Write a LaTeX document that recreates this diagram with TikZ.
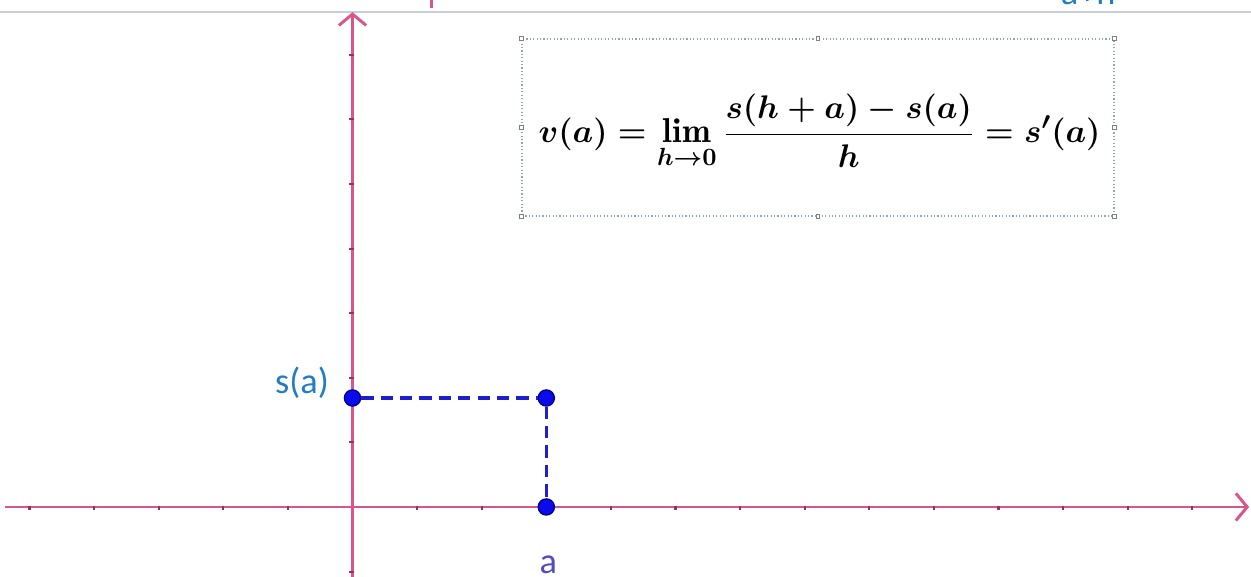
\documentclass[tikz,border=0pt]{standalone}
\usepackage{amsmath}
\usepackage{fontspec}
\usepackage{xcolor}
\usetikzlibrary{positioning,arrows.meta,calc}
\newfontfamily\labelfont{Carlito}
\definecolor{axispink}{RGB}{218,85,138}
\definecolor{tickpink}{RGB}{150,50,95}
\definecolor{dotblue}{RGB}{10,10,235}
\definecolor{dotedge}{RGB}{0,0,140}
\definecolor{dashblue}{RGB}{30,30,205}
\definecolor{labelblue}{RGB}{35,125,195}
\definecolor{alabelblue}{RGB}{85,75,195}
\definecolor{framegray}{RGB}{140,165,185}
\definecolor{topgray}{RGB}{200,206,216}
\newsavebox{\velbox}

\begin{document}
\sbox{\velbox}{\fontsize{15.2}{18}\selectfont\boldmath
  $\displaystyle v(a)=\lim_{h\to 0}\frac{s(h+a)-s(a)}{h}=s'(a)$}%
\begin{tikzpicture}[
    axisline/.style={draw=axispink, line width=1.15pt, -{Straight Barb[length=5pt,width=12pt,line width=1.3pt]}},
    tickmark/.style={draw=tickpink, line width=0.9pt},
    ptdot/.style={circle, fill=dotblue, draw=dotedge, line width=0.6pt, minimum size=0.25cm, inner sep=0pt},
    dashline/.style={draw=dashblue, line width=1.4pt, dash pattern=on 0.19cm off 0.11cm},
    ptlabel/.style={font=\labelfont\fontsize{16}{18}\selectfont, inner sep=0pt},
    formulabox/.style={draw=framegray, densely dotted, line width=0.5pt},
    boxhandle/.style={draw=gray, fill=white, line width=0.4pt, minimum size=0.06cm, inner sep=0pt}
  ]
  \useasboundingbox (-5.457,-1.084) rectangle (13.909,7.848);

  % strip along the top
  \draw[topgray, line width=1.2pt] (-5.457,7.663) -- (13.909,7.663);
  \draw[axispink, line width=1.1pt] (1.22,7.72) -- (1.22,7.85);
  \begin{scope}
    \clip (-5.457,7.76) rectangle (13.909,7.848);
    \node[ptlabel, text=labelblue, anchor=base] (toplabel) at (11.39,7.78) {a+h};
  \end{scope}

  % axes
  \coordinate (O) at (0,0);
  \coordinate (xstart) at (-5.38,0);
  \coordinate (xend) at (13.88,0);
  \coordinate (ystart) at (0,-1.084);
  \coordinate (yend) at (0,7.66);
  \draw[axisline] (xstart) -- (xend);
  \draw[axisline] (ystart) -- (yend);
  \foreach \i in {-5,...,-1,1,2,...,13}
    \draw[tickmark] (\i,0.02) -- (\i,-0.05);
  \foreach \j in {-1,1,2,...,7}
    \draw[tickmark] (-0.05,\j) -- (0.02,\j);

  % points
  \node[ptdot] (pa) at (3,0) {};
  \node[ptdot] (psa) at (0,1.687) {};
  \node[ptdot] (pc) at (3,1.687) {};
  \draw[dashline] (psa) -- (pc);
  \draw[dashline] (pc) -- (pa);
  \node[ptlabel, text=labelblue, anchor=east] (salabel) at (-0.36,1.93) {s(a)};
  \node[ptlabel, text=alabelblue] (alabel) at (3.03,-0.9) {a};

  % formula
  \node[formulabox, minimum width=9.164cm, minimum height=2.74cm] (fbox) at (7.206,5.875) {};
  \node[boxhandle] (hnw) at (fbox.north west) {};
  \node[boxhandle] (hn) at (fbox.north) {};
  \node[boxhandle] (hne) at (fbox.north east) {};
  \node[boxhandle] (he) at (fbox.east) {};
  \node[boxhandle] (hse) at (fbox.south east) {};
  \node[boxhandle] (hs) at (fbox.south) {};
  \node[boxhandle] (hsw) at (fbox.south west) {};
  \node[boxhandle] (hw) at (fbox.west) {};
  \node[inner sep=0pt, anchor=base] (velformula) at (7.23,5.64) {\usebox{\velbox}};
\end{tikzpicture}
\end{document}
